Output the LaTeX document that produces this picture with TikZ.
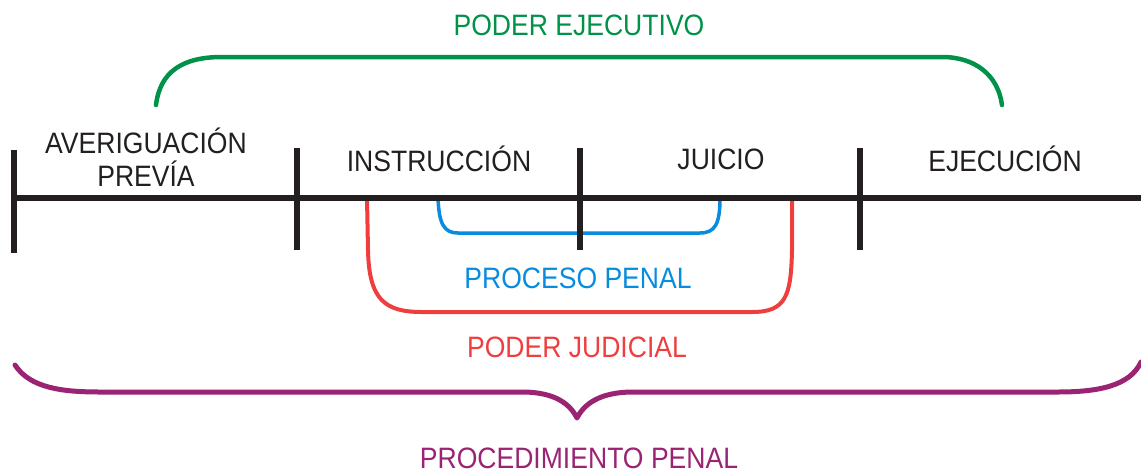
\documentclass[tikz,border=0pt]{standalone}
\usepackage{fontspec}
\setmainfont{Liberation Sans}[FakeStretch=0.9]
\definecolor{ink}{RGB}{35,31,32}
\definecolor{pgreen}{RGB}{0,146,72}
\definecolor{pblue}{RGB}{8,140,222}
\definecolor{pred}{RGB}{238,62,62}
\definecolor{ppurple}{RGB}{155,35,115}
\tikzset{
  lbl/.style={anchor=base, inner sep=0pt, font=\fontsize{29.5}{33}\selectfont},
  axis/.style={draw=ink, line width=6pt},
  brk/.style={line width=#1, line cap=round, line join=round},
}
\begin{document}
\begin{tikzpicture}[x=1pt,y=-1pt]
\useasboundingbox (0,0) rectangle (1141,472);
% brackets
\draw[brk=4.5pt, pgreen] (156,105) .. controls (160,72) and (182,57) .. (222,57) -- (942,57) .. controls (975,57) and (998,75) .. (1002,105);
\draw[brk=4pt, pred] (367,198) -- (368,250) .. controls (369,300) and (385,312) .. (422,312) -- (752,312) .. controls (786,312) and (791,296) .. (792,250) -- (792,198);
\draw[brk=3.5pt, pblue] (438,198) .. controls (439,224) and (444,233) .. (458,233) -- (700,233) .. controls (715,233) and (720,224) .. (720,198);
\draw[brk=5pt, ppurple] (15,365) .. controls (30,388) and (62,392) .. (100,392) -- (522,392) .. controls (555,392) and (570,404) .. (577,418) .. controls (584,404) and (600,392) .. (633,392) -- (1058,392) .. controls (1098,392) and (1130,386) .. (1141,362);
% axis
\coordinate (L) at (14,198);
\coordinate (R) at (1141,198);
\draw[axis] (L) -- (R);
\draw[axis] (14,150) -- (14,253);
\draw[axis] (297,148) -- (297,250);
\draw[axis] (580,148) -- (580,250);
\draw[axis] (860,148) -- (860,250);
% labels
\node[lbl, text=ink] (ave) at (146,153) {AVERIGUACIÓN};
\node[lbl, text=ink] (pre) at (146,186) {PREVÍA};
\node[lbl, text=ink] (ins) at (439,171) {INSTRUCCIÓN};
\node[lbl, text=ink] (jui) at (721,169) {JUICIO};
\node[lbl, text=ink] (eje) at (1005,171) {EJECUCIÓN};
\node[lbl, text=pgreen] (pe) at (579,35) {PODER EJECUTIVO};
\node[lbl, text=pblue] (pp) at (578,288) {PROCESO PENAL};
\node[lbl, text=pred] (pj) at (577,357) {PODER JUDICIAL};
\node[lbl, text=ppurple] (prp) at (579,468) {PROCEDIMIENTO PENAL};
\end{tikzpicture}
\end{document}
